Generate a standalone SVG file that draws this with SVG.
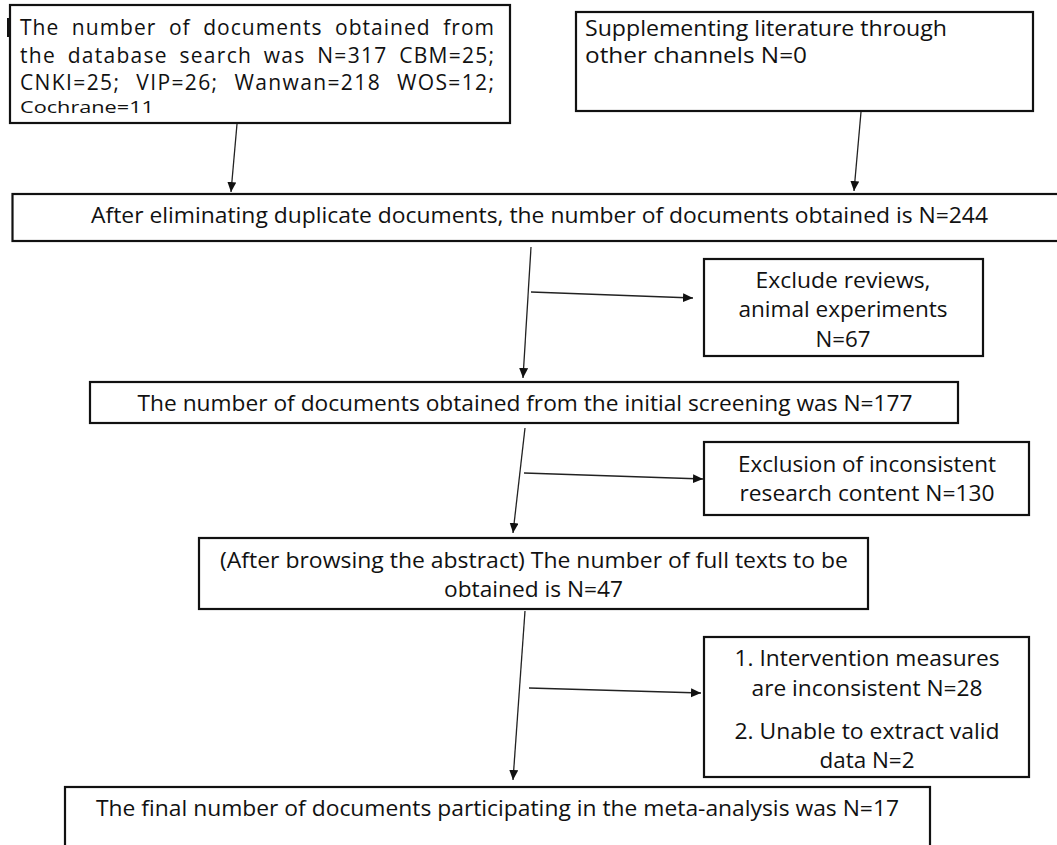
<svg xmlns="http://www.w3.org/2000/svg" width="1057" height="845" viewBox="0 0 1057 845">
<style>
.box{fill:#fff;stroke:#111;stroke-width:2.2}
.t{font-family:"Open Sans","Liberation Sans",sans-serif;font-size:21px;fill:#111}
.c{text-anchor:middle}
.conn{stroke:#222;stroke-width:1.3;fill:none;marker-end:url(#ah)}
</style>
<defs>
<marker id="ah" markerUnits="userSpaceOnUse" markerWidth="12" markerHeight="12" refX="10" refY="4.5" orient="auto">
<path d="M0,0 L10,4.5 L0,9 z" fill="#111"/>
</marker>
</defs>
<rect x="0" y="0" width="1057" height="845" fill="#fff"/>

<g id="n1">
<rect class="box" x="10" y="5" width="500" height="118"/>
<rect x="7" y="18" width="3" height="19" fill="#111"/>
<text class="t" x="20" y="35" style="word-spacing:6px" textLength="474" lengthAdjust="spacing">The number of documents obtained from</text>
<text class="t" x="20" y="63" style="word-spacing:5px" textLength="474" lengthAdjust="spacing">the database search was N=317 CBM=25;</text>
<text class="t" x="20" y="90" style="word-spacing:9px" textLength="474" lengthAdjust="spacing">CNKI=25; VIP=26; Wanwan=218 WOS=12;</text>
<text class="t" x="20" y="113" style="font-size:17px" textLength="134" lengthAdjust="spacingAndGlyphs">Cochrane=11</text>
</g>

<g id="n2">
<rect class="box" x="576" y="12" width="457" height="99"/>
<text class="t" x="585" y="36" textLength="362" lengthAdjust="spacingAndGlyphs">Supplementing literature through</text>
<text class="t" x="585" y="63" textLength="222" lengthAdjust="spacingAndGlyphs">other channels N=0</text>
</g>

<g id="n3">
<rect class="box" x="12.5" y="194" width="1060" height="47"/>
<text class="t c" x="539.5" y="223" textLength="897" lengthAdjust="spacingAndGlyphs">After eliminating duplicate documents, the number of documents obtained is N=244</text>
</g>

<g id="n4">
<rect class="box" x="704" y="259" width="279" height="97"/>
<text class="t c" x="843" y="288" textLength="175" lengthAdjust="spacingAndGlyphs">Exclude reviews,</text>
<text class="t c" x="843" y="317" textLength="209" lengthAdjust="spacingAndGlyphs">animal experiments</text>
<text class="t c" x="843" y="347" textLength="55" lengthAdjust="spacingAndGlyphs">N=67</text>
</g>

<g id="n5">
<rect class="box" x="90" y="382" width="868" height="41"/>
<text class="t c" x="525" y="411" textLength="775" lengthAdjust="spacingAndGlyphs">The number of documents obtained from the initial screening was N=177</text>
</g>

<g id="n6">
<rect class="box" x="704" y="442" width="325" height="73"/>
<text class="t c" x="867" y="472" textLength="258" lengthAdjust="spacingAndGlyphs">Exclusion of inconsistent</text>
<text class="t c" x="867" y="501" textLength="255" lengthAdjust="spacingAndGlyphs">research content N=130</text>
</g>

<g id="n7">
<rect class="box" x="199" y="538" width="669" height="71"/>
<text class="t c" x="534" y="568" textLength="628" lengthAdjust="spacingAndGlyphs">(After browsing the abstract) The number of full texts to be</text>
<text class="t c" x="533.5" y="597" textLength="179" lengthAdjust="spacingAndGlyphs">obtained is N=47</text>
</g>

<g id="n8">
<rect class="box" x="704" y="637" width="325" height="140"/>
<text class="t c" x="867" y="666" textLength="265" lengthAdjust="spacingAndGlyphs">1. Intervention measures</text>
<text class="t c" x="867" y="696" textLength="231" lengthAdjust="spacingAndGlyphs">are inconsistent N=28</text>
<text class="t c" x="867" y="739" textLength="265" lengthAdjust="spacingAndGlyphs">2. Unable to extract valid</text>
<text class="t c" x="867" y="768" textLength="95" lengthAdjust="spacingAndGlyphs">data N=2</text>
</g>

<g id="n9">
<rect class="box" x="65" y="787" width="865" height="80"/>
<text class="t c" x="497.5" y="816" textLength="803" lengthAdjust="spacingAndGlyphs">The final number of documents participating in the meta-analysis was N=17</text>
</g>

<g id="connectors">
<line class="conn" x1="237" y1="124" x2="231" y2="192"/>
<line class="conn" x1="861" y1="112" x2="854" y2="191"/>
<line class="conn" x1="531" y1="247" x2="523" y2="378"/>
<line class="conn" x1="531" y1="292" x2="693" y2="298"/>
<line class="conn" x1="525" y1="428" x2="513" y2="533"/>
<line class="conn" x1="524" y1="473" x2="703" y2="479"/>
<line class="conn" x1="525" y1="611" x2="513" y2="780"/>
<line class="conn" x1="529" y1="688" x2="701" y2="693"/>
</g>
</svg>
